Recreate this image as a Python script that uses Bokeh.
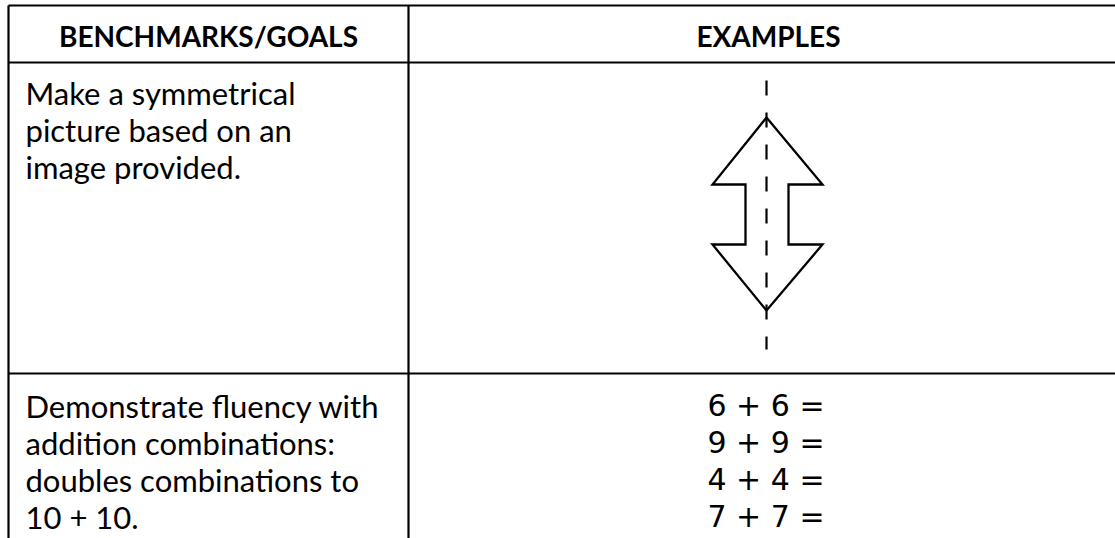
from bokeh.plotting import figure
from bokeh.models import Range1d, ColumnDataSource
from bokeh.core.properties import value
from bokeh.embed import file_html
from bokeh.resources import INLINE

# ---- content ----
headers = ["BENCHMARKS/GOALS", "EXAMPLES"]
goal_1 = ["Make a symmetrical", "picture based on an", "image provided."]
goal_2 = ["Demonstrate fluency with", "addition combinations:",
          "doubles combinations to", "10 + 10."]
examples_2 = ["6 + 6 =", "9 + 9 =", "4 + 4 =", "7 + 7 ="]

# arrow outline (symmetric double arrow), in page units
arrow_x = [766, 822, 788, 788, 822, 766, 712, 745, 745, 712, 766]
arrow_y = [117, 184, 184, 244, 244, 310, 244, 244, 184, 184, 117]

# ---- layout constants ----
W, H = 1115, 538
X0, Y0 = 0, 0
left_x, div_x, right_x = 8, 408, 1128
top_y, head_y, row_y, bot_y = 5, 62, 373, 560
line_h = 37
font = "Lato"
fsize = "31px"
dy = -11  # baseline correction

p = figure(width=W, height=H, output_backend="svg", toolbar_location=None,
           x_range=Range1d(X0, X0 + W), y_range=Range1d(Y0 + H, Y0),
           min_border=0, outline_line_color=None, background_fill_color="white")
p.axis.visible = False
p.grid.visible = False

# table lines
p.segment(x0=[left_x, left_x, left_x], y0=[top_y, head_y, row_y],
          x1=[right_x, right_x, right_x], y1=[top_y, head_y, row_y],
          line_color="black", line_width=2.2)
p.segment(x0=[left_x, div_x], y0=[top_y, top_y], x1=[left_x, div_x], y1=[bot_y, bot_y],
          line_color="black", line_width=2.2)

# headers
p.text(x=[(left_x + div_x) / 2, (div_x + right_x) / 2], y=[46 + dy, 46 + dy], text=headers,
       text_font=value(font), text_font_style="bold", text_font_size="28px",
       text_align="center", text_baseline="alphabetic", text_color="black")

# goal texts
def lines(texts, x, y0, fnt, size):
    src = ColumnDataSource(dict(x=[x] * len(texts),
                                y=[y0 + dy + i * line_h for i in range(len(texts))],
                                t=texts))
    p.text(x="x", y="y", text="t", source=src, text_font=value(fnt),
           text_font_size=size, text_align="left", text_baseline="alphabetic",
           text_color="black")

lines(goal_1, 25, 103, font, fsize)
lines(goal_2, 25, 416, font, fsize)
lines(examples_2, 707, 416, "DejaVu Sans", "30px")

# symmetry picture
p.line(x=arrow_x, y=arrow_y, line_color="black", line_width=2.3, line_join="miter")
p.line(x=[766, 766], y=[80, 349], line_color="black", line_width=2.2, line_dash="15 17")

open("out.html", "w").write(file_html(p, INLINE))
